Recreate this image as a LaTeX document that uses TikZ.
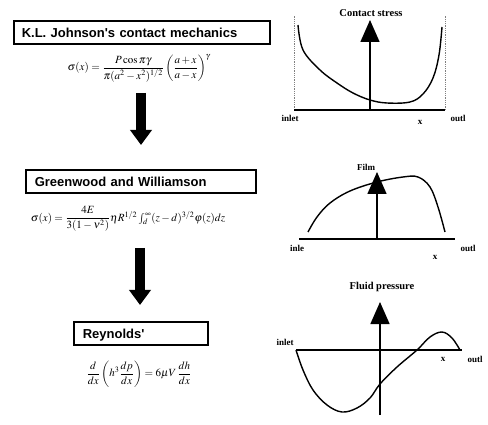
\documentclass[tikz,border=0pt]{standalone}
\usepackage{amsmath}
\usepackage{mathptmx}
\usepackage{fontspec}
\setmainfont{Liberation Serif}
\newfontfamily\arialf{Liberation Sans}
\usetikzlibrary{arrows.meta}
\tikzset{
  titlebox/.style={draw, line width=1.6pt, minimum height=23pt, inner sep=0pt, anchor=north west, font=\arialf\bfseries\fontsize{13}{15}\selectfont, text depth=0pt},
  formula/.style={inner sep=0pt, font=\fontsize{11}{13}\selectfont},
  bigarrow/.style={line width=10pt, -{Triangle[width=21pt,length=15pt]}},
  axis/.style={line width=1.5pt},
  yaxis/.style={line width=1.5pt, -{Triangle[width=19pt,length=22pt]}},
  curve/.style={line width=1.4pt, line join=round},
  lbl/.style={inner sep=0pt, font=\bfseries\fontsize{9}{10}\selectfont},
  ttl/.style={inner sep=0pt, font=\bfseries\fontsize{10.5}{12}\selectfont},
  guide/.style={densely dotted, gray, line width=0.8pt}
}
\begin{document}
\begin{tikzpicture}[x=1pt,y=-1pt]
\useasboundingbox (0,0) rectangle (488,425);
% left column
\node[titlebox, minimum width=256pt, text width=240pt, align=left] (b1) at (13,20) {K.L. Johnson's contact mechanics};
\node[formula] (f1) at (139,68) {$\sigma(x)=\dfrac{P\cos\pi\gamma}{\pi(a^2-x^2)^{1/2}}\left(\dfrac{a+x}{a-x}\right)^{\gamma}$};
\coordinate (a1s) at (141,93);
\coordinate (a1e) at (141,145);
\draw[bigarrow] (a1s) -- (a1e);
\node[titlebox, minimum width=230pt, text width=212pt, align=left] (b2) at (25,169) {Greenwood and Williamson};
\node[formula] (f2) at (128,219) {$\sigma(x)=\dfrac{4E}{3(1-\nu^2)}\eta R^{1/2}\int_d^{\infty}(z-d)^{3/2}\varphi(z)dz$};
\coordinate (a2s) at (140,248);
\coordinate (a2e) at (140,305);
\draw[bigarrow] (a2s) -- (a2e);
\node[titlebox, minimum width=134pt, text width=116pt, align=left] (b3) at (73,321) {Reynolds'};
\node[formula] (f3) at (139,374) {$\dfrac{d}{dx}\left(h^3\dfrac{dp}{dx}\right)=6\mu V\,\dfrac{dh}{dx}$};
% plot 1
\coordinate (p1l) at (294,110);
\coordinate (p1r) at (445,110);
\coordinate (p1o) at (370,110);
\coordinate (p1t) at (370,20);
\coordinate (p1lt) at (294,16);
\coordinate (p1rt) at (445,16);
\draw[guide] (p1l) -- (p1lt);
\draw[guide] (p1r) -- (p1rt);
\draw[axis] (p1l) -- (p1r);
\draw[yaxis] (p1o) -- (p1t);
\draw[curve] plot[smooth, tension=0.6] coordinates {(298,25) (303,50) (320,70) (337,83) (353,93) (370,100) (387,103) (410,102) (423,94) (433,78) (439,55) (442,27)};
\node[ttl] (t1) at (371,13) {Contact stress};
\node[lbl] (l1a) at (290,118) {inlet};
\node[lbl] (l1b) at (420,122) {x};
\node[lbl] (l1c) at (458,118) {outl};
% plot 2
\coordinate (p2l) at (299,239);
\coordinate (p2r) at (455,239);
\coordinate (p2o) at (377,239);
\coordinate (p2t) at (377,172);
\draw[axis] (p2l) -- (p2r);
\draw[yaxis] (p2o) -- (p2t);
\draw[curve] plot[smooth, tension=0.6] coordinates {(308,232) (317,217) (330,203) (350,191) (377,182) (403,177) (418,177) (430,187) (438,207) (445,232)};
\node[lbl] (t2) at (366,167) {Film};
\node[lbl] (l2a) at (297,248) {inle};
\node[lbl] (l2b) at (435,257) {x};
\node[lbl] (l2c) at (468,248) {outl};
% plot 3
\coordinate (p3l) at (296,350);
\coordinate (p3r) at (462,350);
\coordinate (p3o) at (380,415);
\coordinate (p3t) at (380,302);
\draw[axis] (p3l) -- (p3r);
\draw[yaxis] (p3o) -- (p3t);
\draw[curve] plot[smooth, tension=0.6] coordinates {(296,350) (303,370) (313,390) (327,405) (342,412) (357,408) (370,398) (380,384) (397,367) (417,350) (430,337) (442,332) (452,338) (460,350)};
\node[ttl] (t3) at (382,287) {Fluid pressure};
\node[lbl] (l3a) at (285,342) {inlet};
\node[lbl] (l3b) at (443,359) {x};
\node[lbl] (l3c) at (475,359) {outl};
\end{tikzpicture}
\end{document}
